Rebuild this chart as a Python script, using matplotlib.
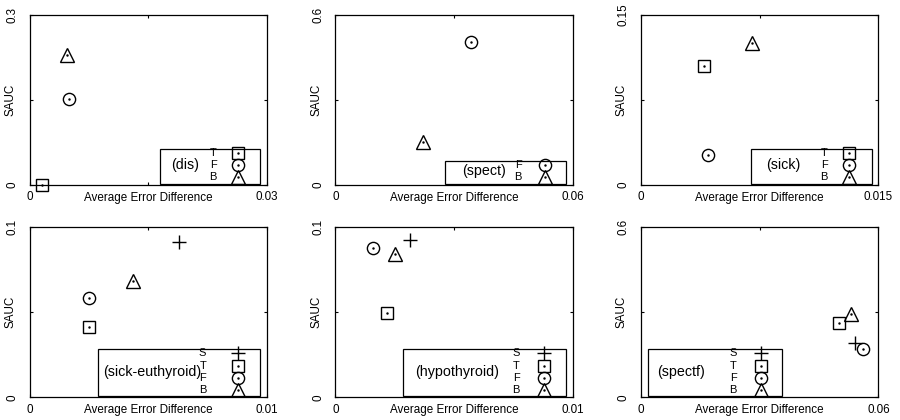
import matplotlib.pyplot as plt
from matplotlib.patches import Rectangle

plt.rcParams['font.family'] = ['Liberation Sans', 'DejaVu Sans']

datasets = ["dis", "spect", "sick", "sick-euthyroid", "hypothyroid", "spectf"]
x_max = [0.03, 0.06, 0.015, 0.01, 0.01, 0.06]
y_max = [0.3, 0.6, 0.15, 0.1, 0.1, 0.6]
x_ticklabels = ["0.03", "0.06", "0.015", "0.01", "0.01", "0.06"]
y_ticklabels = ["0.3", "0.6", "0.15", "0.1", "0.1", "0.6"]

# None = method not shown for that dataset
S_x = [None, None, None, 0.0063, 0.00314, 0.0541]
S_y = [None, None, None, 0.0912, 0.0922, 0.193]
T_x = [0.0016, None, 0.0040, 0.0025, 0.00219, 0.0500]
T_y = [0.0, None, 0.105, 0.0416, 0.0496, 0.261]
F_x = [0.0050, 0.0342, 0.00423, 0.00252, 0.00158, 0.0561]
F_y = [0.151, 0.505, 0.0265, 0.0586, 0.0877, 0.170]
B_x = [0.00476, 0.0221, 0.0070, 0.00435, 0.00252, 0.0530]
B_y = [0.229, 0.152, 0.1256, 0.0682, 0.0840, 0.293]

methods = ["S", "T", "F", "B"]
xs = {"S": S_x, "T": T_x, "F": F_x, "B": B_x}
ys = {"S": S_y, "T": T_y, "F": F_y, "B": B_y}
mk = {"S": ("+", 10.5), "T": ("s", 8.3), "F": ("o", 8.8), "B": ("^", 9.5)}

# legend box: left, right, label right edge, marker x, title center
leg_geo = [
    (0.55, 0.972, 0.789, 0.878, 0.656),
    (0.463, 0.971, 0.785, 0.881, 0.628),
    (0.463, 0.972, 0.787, 0.878, 0.600),
    (0.287, 0.972, 0.743, 0.878, 0.515),
    (0.285, 0.969, 0.776, 0.877, 0.512),
    (0.032, 0.595, 0.403, 0.504, 0.169),
]

lefts = [0.0328, 0.3726, 0.712]
bottoms = [0.5595, 0.054]
w, h = 0.264, 0.405

fig = plt.figure(figsize=(9, 4.2), dpi=100)


def draw_marker(ax, m, x, y, **kw):
    sym, size = mk[m]
    ax.plot([x], [y], linestyle="none", marker=sym, markersize=size,
            markerfacecolor="none", markeredgecolor="black",
            markeredgewidth=1.0, **kw)
    if m != "S":
        ax.plot([x], [y], linestyle="none", marker=".", markersize=1.5,
                color="black", **kw)


for i, name in enumerate(datasets):
    ax = fig.add_axes([lefts[i % 3], bottoms[i // 3], w, h])
    present = [m for m in methods if xs[m][i] is not None]
    for m in present:
        draw_marker(ax, m, xs[m][i], ys[m][i], clip_on=False)

    ax.set_xlim(0, x_max[i])
    ax.set_ylim(0, y_max[i])
    ax.set_xticks([0, x_max[i] / 2, x_max[i]])
    ax.set_xticklabels(["0", "", x_ticklabels[i]])
    ax.set_yticks([0, y_max[i] / 2, y_max[i]])
    ax.set_yticklabels(["0", "", y_ticklabels[i]], rotation=90, va="center")
    ax.tick_params(direction="in", length=2.5, width=0.8, top=True,
                   right=True, labelsize=8.4)
    ax.tick_params(axis="x", pad=4.5)
    ax.tick_params(axis="y", pad=8)
    for sp in ax.spines.values():
        sp.set_linewidth(0.9)

    ax.set_xlabel("Average Error Difference", fontsize=8.4)
    ax.xaxis.set_label_coords(0.5, -0.042)
    ax.set_ylabel("SAUC", fontsize=8.4)
    ax.yaxis.set_label_coords(-0.055, 0.5)

    # gnuplot-style key box
    bl, br, lx, mx, tx = leg_geo[i]
    n = len(present)
    top = 0.045 + 0.071 * (n - 1) + 0.026
    ax.add_patch(Rectangle((bl, 0.008), br - bl, top - 0.008,
                           transform=ax.transAxes, facecolor="white",
                           edgecolor="black", linewidth=0.9, zorder=3))
    for k, m in enumerate(present):
        yy = 0.045 + 0.071 * (n - 1 - k)
        ax.text(lx, yy, m, transform=ax.transAxes, ha="right", va="center",
                fontsize=8, zorder=4)
        draw_marker(ax, m, mx, yy, transform=ax.transAxes, zorder=4)
    ax.text(tx, 0.045 + 0.071 * (n - 1) / 2, "(" + name + ")",
            transform=ax.transAxes, ha="center", va="center",
            fontsize=10.3, zorder=4)

fig.savefig("out.png", dpi=100)
